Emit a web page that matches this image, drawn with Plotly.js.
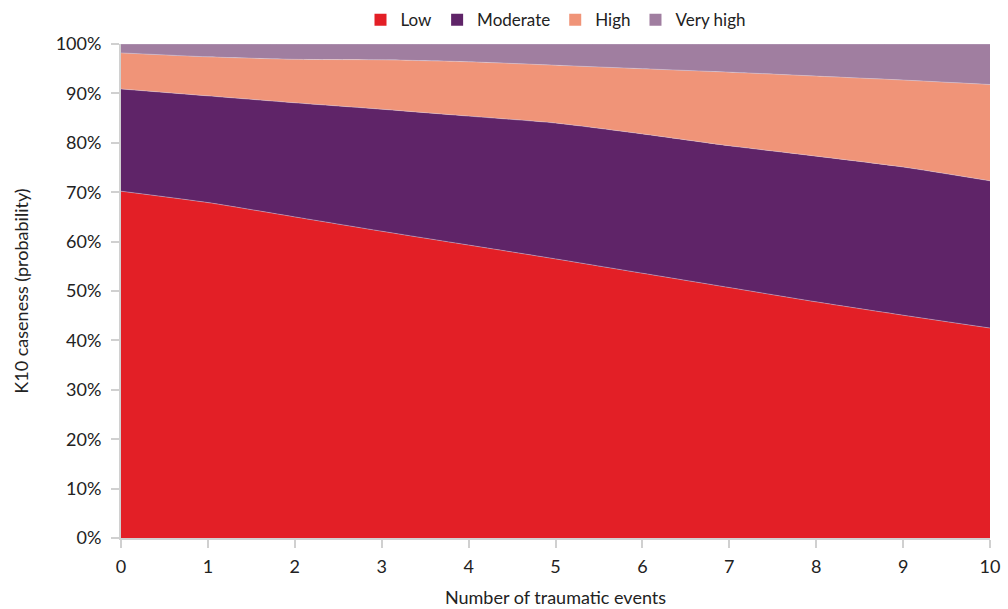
<!DOCTYPE html>
<html>
<head>
<meta charset="utf-8">
<script src="https://cdn.plot.ly/plotly-3.0.1.min.js"></script>
<style>html,body{margin:0;padding:0;background:#fff;}#chart{width:1008px;height:609px;}</style>
</head>
<body>
<div id="chart"></div>
<script>
var events = [0, 1, 2, 3, 4, 5, 6, 7, 8, 9, 10];
var seriesNames = ["Low", "Moderate", "High", "Very high"];
var low      = [70.2, 67.9, 65.0, 62.1, 59.3, 56.5, 53.6, 50.7, 47.8, 45.1, 42.5];
var moderate = [20.7, 21.6, 23.1, 24.7, 26.1, 27.5, 28.2, 28.7, 29.5, 30.0, 29.8];
var high     = [7.3, 7.9, 8.8, 10.0, 11.0, 11.7, 13.2, 14.9, 16.2, 17.6, 19.5];
var veryHigh = [1.8, 2.6, 3.1, 3.2, 3.6, 4.3, 5.0, 5.7, 6.5, 7.3, 8.2];
var yTicks = [0, 10, 20, 30, 40, 50, 60, 70, 80, 90, 100];
var yTickText = yTicks.map(function (t) { return t + "%"; });

var colors = ["#E31F26", "#5F2468", "#F09478", "#A07EA0"];
var values = [low, moderate, high, veryHigh];

var traces = values.map(function (v, i) {
  return {
    type: "scatter",
    mode: "lines",
    x: events,
    y: v,
    name: seriesNames[i],
    stackgroup: "one",
    fillcolor: colors[i],
    line: {shape: "spline", smoothing: 0.6, width: 0.6, color: "rgba(220,210,225,0.7)"},
    showlegend: false
  };
});
// legend swatches (square markers, no data shown)
seriesNames.forEach(function (n, i) {
  traces.push({
    type: "bar",
    x: [null],
    y: [null],
    name: n,
    marker: {color: colors[i]},
    showlegend: true
  });
});

var font = "Lato, 'Open Sans', sans-serif";
var layout = {
  width: 1008,
  height: 609,
  margin: {l: 121, r: 18, t: 44, b: 71, autoexpand: false},
  paper_bgcolor: "#fff",
  plot_bgcolor: "#fff",
  font: {family: font, size: 17, color: "#333"},
  showlegend: true,
  legend: {
    orientation: "h",
    x: 0.5, xanchor: "center",
    y: 1.048, yanchor: "middle",
    font: {family: font, size: 17, color: "#222"},
    traceorder: "normal",
    itemwidth: 30
  },
  xaxis: {
    range: [0, 10],
    tickvals: events,
    ticks: "outside",
    ticklen: 8,
    tickcolor: "#d0d0d0",
    tickwidth: 2,
    ticklabelstandoff: 3,
    showline: true,
    linecolor: "#d0d0d0",
    linewidth: 2,
    showgrid: false,
    zeroline: false,
    tickfont: {size: 18, color: "#222"},
    title: {text: "Number of traumatic events", font: {size: 18, color: "#222"}, standoff: 16}
  },
  yaxis: {
    range: [0, 100],
    tickvals: yTicks,
    ticktext: yTickText,
    ticks: "outside",
    ticklen: 8,
    tickcolor: "#d0d0d0",
    tickwidth: 2,
    ticklabelstandoff: 6,
    showline: true,
    linecolor: "#d0d0d0",
    linewidth: 2,
    showgrid: false,
    zeroline: false,
    tickfont: {size: 18, color: "#222"},
    title: {text: "K10 caseness (probability)", font: {size: 18, color: "#222"}, standoff: 22}
  }
};

Plotly.newPlot("chart", traces, layout, {displayModeBar: false, staticPlot: true});
</script>
</body>
</html>
